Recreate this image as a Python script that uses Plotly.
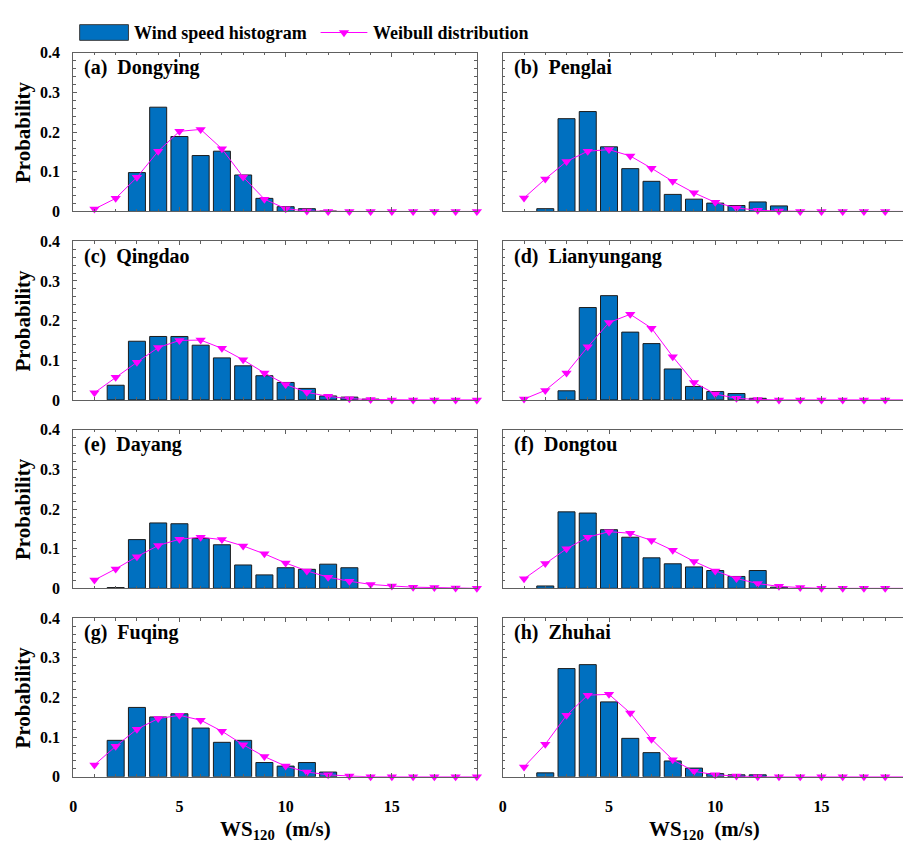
import plotly.graph_objects as go

# Wind speed bins (m/s) at 120 m height
ws_bins = list(range(1, 20))

stations = ["Dongying", "Penglai", "Qingdao", "Lianyungang",
            "Dayang", "Dongtou", "Fuqing", "Zhuhai"]
panel_tags = ["(a)", "(b)", "(c)", "(d)", "(e)", "(f)", "(g)", "(h)"]

# Observed wind speed histograms (probability per 1 m/s bin)
hist_dongying = [0, 0, 0.098, 0.263, 0.189, 0.141, 0.152, 0.092, 0.033, 0.012,
                 0.007, 0.001, 0, 0, 0, 0, 0, 0, 0]
hist_penglai = [0, 0.007, 0.234, 0.252, 0.163, 0.108, 0.076, 0.043, 0.031, 0.021,
                0.015, 0.024, 0.014, 0, 0, 0, 0, 0, 0]
hist_qingdao = [0, 0.037, 0.148, 0.160, 0.160, 0.138, 0.106, 0.086, 0.061, 0.044,
                0.029, 0.010, 0.007, 0.002, 0, 0, 0, 0, 0]
hist_lianyungang = [0, 0, 0.023, 0.233, 0.263, 0.171, 0.142, 0.078, 0.034, 0.021,
                    0.016, 0.004, 0, 0, 0, 0, 0, 0, 0]
hist_dayang = [0, 0.002, 0.123, 0.165, 0.163, 0.126, 0.110, 0.059, 0.034, 0.052,
               0.048, 0.061, 0.052, 0, 0, 0, 0, 0, 0]
hist_dongtou = [0, 0.006, 0.193, 0.190, 0.148, 0.129, 0.077, 0.062, 0.054, 0.045,
                0.030, 0.045, 0.003, 0, 0, 0, 0, 0, 0]
hist_fuqing = [0, 0.092, 0.175, 0.151, 0.159, 0.123, 0.087, 0.092, 0.036, 0.027,
               0.036, 0.012, 0, 0, 0, 0, 0, 0, 0]
hist_zhuhai = [0, 0.010, 0.273, 0.283, 0.189, 0.097, 0.061, 0.040, 0.022, 0.008,
               0.005, 0.005, 0, 0, 0, 0, 0, 0, 0]

# Fitted Weibull probabilities at each bin
weib_dongying = [0.006, 0.033, 0.086, 0.152, 0.202, 0.207, 0.158, 0.087, 0.031, 0.007,
                 0.001, 0, 0, 0, 0, 0, 0, 0, 0]
weib_penglai = [0.034, 0.082, 0.126, 0.152, 0.156, 0.140, 0.109, 0.076, 0.047, 0.023,
                0.009, 0.003, 0.001, 0, 0, 0, 0, 0, 0]
weib_qingdao = [0.018, 0.057, 0.095, 0.132, 0.150, 0.151, 0.130, 0.101, 0.068, 0.039,
                0.019, 0.009, 0.003, 0.001, 0, 0, 0, 0, 0]
weib_lianyungang = [0.002, 0.024, 0.068, 0.134, 0.195, 0.216, 0.181, 0.109, 0.044, 0.015,
                    0.004, 0.001, 0, 0, 0, 0, 0, 0, 0]
weib_dayang = [0.021, 0.049, 0.080, 0.108, 0.124, 0.129, 0.123, 0.107, 0.087, 0.064,
               0.044, 0.028, 0.018, 0.010, 0.006, 0.003, 0.002, 0.001, 0]
weib_dongtou = [0.024, 0.063, 0.100, 0.129, 0.143, 0.139, 0.121, 0.096, 0.068, 0.044,
                0.025, 0.012, 0.005, 0.002, 0, 0, 0, 0, 0]
weib_fuqing = [0.030, 0.077, 0.120, 0.147, 0.155, 0.143, 0.115, 0.081, 0.051, 0.027,
               0.012, 0.005, 0.002, 0, 0, 0, 0, 0, 0]
weib_zhuhai = [0.025, 0.082, 0.155, 0.206, 0.208, 0.161, 0.095, 0.043, 0.014, 0.005,
               0.002, 0, 0, 0, 0, 0, 0, 0, 0]

hists = [hist_dongying, hist_penglai, hist_qingdao, hist_lianyungang,
         hist_dayang, hist_dongtou, hist_fuqing, hist_zhuhai]
weibs = [weib_dongying, weib_penglai, weib_qingdao, weib_lianyungang,
         weib_dayang, weib_dongtou, weib_fuqing, weib_zhuhai]

y_ticks = [0, 0.1, 0.2, 0.3, 0.4]
y_ticklabels = ["0", "0.1", "0.2", "0.3", "0.4"]
x_ticks = [0, 5, 10, 15]
x_ticklabels = ["0", "5", "10", "15"]

W, H = 903, 850
FONT = "Liberation Serif"
BAR_BLUE = "#0070C0"
MAGENTA = "#FF00FF"
AXIS_GREY = "#606060"

# pixel geometry of the panel grid
px_per_unit = 21.34
col_left = [69.5, 501.0]
col_right = [69.5 + 19 * px_per_unit, W]
row_top = [45.8 + 192.3 * r for r in range(4)]
row_h = 161.8


def fx(px):
    return px / W


def fy(py):
    return 1 - py / H


fig = go.Figure()
layout = dict(
    width=W, height=H,
    margin=dict(l=0, r=0, t=0, b=0),
    paper_bgcolor="white", plot_bgcolor="white",
    showlegend=False,
    font=dict(family=FONT, color="black"),
)

annotations = []
shapes = []

for i, name in enumerate(stations):
    r, c = divmod(i, 2)
    k = i + 1
    xa = "x" if k == 1 else f"x{k}"
    ya = "y" if k == 1 else f"y{k}"

    # empty bins get no outline so nothing is drawn for them
    edge_w = [1 if v > 0 else 0 for v in hists[i]]
    fig.add_trace(go.Bar(
        x=ws_bins, y=hists[i], width=0.8,
        marker=dict(color=BAR_BLUE, line=dict(color="#1c1c1c", width=edge_w)),
        xaxis=xa, yaxis=ya, name="Wind speed histogram",
    ))
    fig.add_trace(go.Scatter(
        x=ws_bins, y=weibs[i], mode="lines+markers",
        line=dict(color=MAGENTA, width=1),
        marker=dict(symbol="triangle-down", size=9, color=MAGENTA),
        cliponaxis=False,
        xaxis=xa, yaxis=ya, name="Weibull distribution",
    ))

    x0p, x1p = col_left[c], col_right[c]
    y0p, y1p = row_top[r], row_top[r] + row_h
    x_range_end = (x1p - x0p) / px_per_unit

    bottom_row = r == 3
    layout["xaxis" if k == 1 else f"xaxis{k}"] = dict(
        domain=[fx(x0p), fx(x1p)], anchor=ya,
        range=[0, x_range_end], showgrid=False, zeroline=False,
        showline=True, linecolor=AXIS_GREY, linewidth=1, mirror="allticks",
        ticks="inside", ticklen=4, tickcolor=AXIS_GREY, tickwidth=1,
        tickvals=x_ticks, ticktext=x_ticklabels,
        showticklabels=bottom_row,
        tickfont=dict(family=FONT, size=16, color="black", weight="bold"),
        ticklabelstandoff=15,
        minor=dict(dtick=1, ticks="inside", ticklen=2.5, tickcolor=AXIS_GREY),
    )
    layout["yaxis" if k == 1 else f"yaxis{k}"] = dict(
        domain=[fy(y1p), fy(y0p)], anchor=xa,
        range=[0, 0.4], showgrid=False, zeroline=False,
        showline=True, linecolor=AXIS_GREY, linewidth=1,
        mirror="allticks" if c == 0 else False,
        ticks="inside", ticklen=4, tickcolor=AXIS_GREY, tickwidth=1,
        tickvals=y_ticks, ticktext=y_ticklabels,
        showticklabels=(c == 0),
        tickfont=dict(family=FONT, size=16, color="black", weight="bold"),
        ticklabelstandoff=9,
        minor=dict(dtick=0.02, ticks="inside", ticklen=2.5, tickcolor=AXIS_GREY),
    )

    # panel label
    annotations.append(dict(
        xref="paper", yref="paper", x=fx(x0p + 9), y=fy(y0p + 15),
        xanchor="left", yanchor="middle", showarrow=False,
        text=f"{panel_tags[i]}\u00a0\u00a0{name}",
        font=dict(family=FONT, size=20, color="black", weight="bold"),
    ))

    if c == 0:
        annotations.append(dict(
            xref="paper", yref="paper", x=fx(19), y=fy((y0p + y1p) / 2),
            xanchor="center", yanchor="middle", showarrow=False, textangle=-90,
            text="Probability",
            font=dict(family=FONT, size=21, color="black", weight="bold"),
        ))
    if bottom_row:
        annotations.append(dict(
            xref="paper", yref="paper", x=fx(col_left[c] + 9.5 * px_per_unit),
            y=fy(823), xanchor="center", yanchor="top", showarrow=False,
            text="WS<sub>120</sub>\u00a0\u00a0(m/s)",
            font=dict(family=FONT, size=21, color="black", weight="bold"),
        ))

# legend row across the top
shapes.append(dict(type="rect", xref="paper", yref="paper",
                   x0=fx(76), x1=fx(125), y0=fy(33), y1=fy(17),
                   fillcolor=BAR_BLUE, line=dict(color="#3a3a3a", width=1)))
shapes.append(dict(type="line", xref="paper", yref="paper",
                   x0=fx(318), x1=fx(365), y0=fy(25), y1=fy(25),
                   line=dict(color=MAGENTA, width=1)))
tri_cx, tri_cy = 341.5, 25
shapes.append(dict(type="path", xref="paper", yref="paper",
                   path=(f"M {fx(tri_cx - 5.2)},{fy(tri_cy - 2.4)} "
                         f"L {fx(tri_cx + 5.2)},{fy(tri_cy - 2.4)} "
                         f"L {fx(tri_cx)},{fy(tri_cy + 4.8)} Z"),
                   fillcolor=MAGENTA, line=dict(color=MAGENTA, width=0)))
annotations.append(dict(
    xref="paper", yref="paper", x=fx(129), y=fy(25), xanchor="left", yanchor="middle",
    showarrow=False, text="Wind speed histogram",
    font=dict(family=FONT, size=18, color="black", weight="bold"),
))
annotations.append(dict(
    xref="paper", yref="paper", x=fx(369), y=fy(25), xanchor="left", yanchor="middle",
    showarrow=False, text="Weibull distribution",
    font=dict(family=FONT, size=18, color="black", weight="bold"),
))

layout["annotations"] = annotations
layout["shapes"] = shapes
fig.update_layout(**layout)

fig.write_html("out.html")
